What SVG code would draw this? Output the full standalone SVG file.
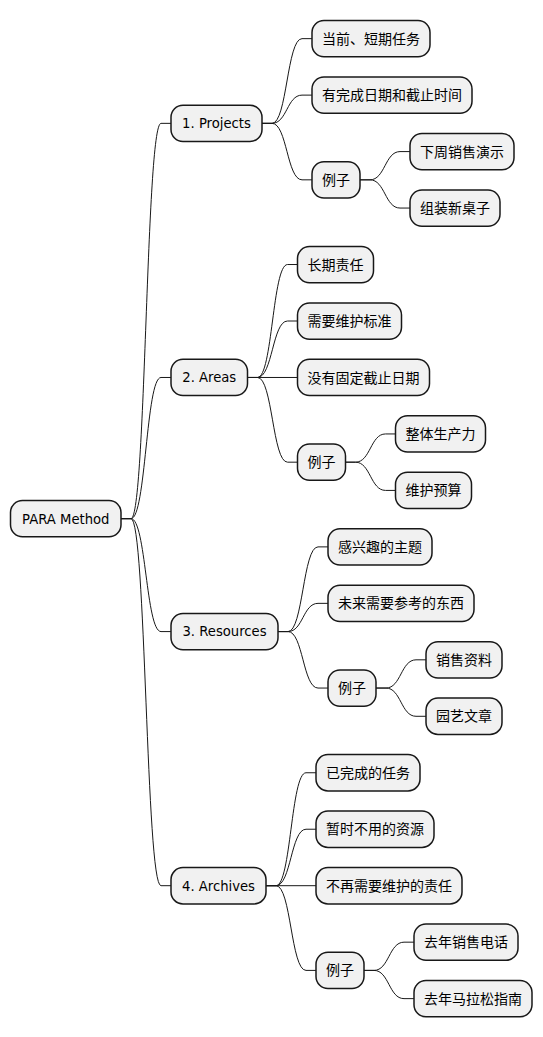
<svg xmlns="http://www.w3.org/2000/svg" width="543" height="1037" viewBox="0 0 543 1037">
<style>
.n rect{fill:#F1F1F1;stroke:#181818;stroke-width:1.5}
.n text{fill:#000;text-anchor:middle;font-size:14px;font-family:"Noto Sans CJK SC","DejaVu Sans",sans-serif}
.n text.l{font-family:"DejaVu Sans","Liberation Sans",sans-serif;font-size:13.2px}
#links path{fill:none;stroke:#181818;stroke-width:1}
</style>
<rect width="543" height="1037" fill="#FFFFFF"/>
<g id="links">
<path d="M121,518.65 H131 C146,518.65 146,123.35 161,123.35 H171"/>
<path d="M121,518.65 H131 C146,518.65 146,377.47 161,377.47 H171"/>
<path d="M121,518.65 H131 C146,518.65 146,631.58 161,631.58 H171"/>
<path d="M121,518.65 H131 C146,518.65 146,885.7 161,885.7 H171"/>
<path d="M262,123.35 H272 C287,123.35 287,38.65 302,38.65 H312"/>
<path d="M262,123.35 H272 C287,123.35 287,95.12 302,95.12 H312"/>
<path d="M262,123.35 H272 C287,123.35 287,179.83 302,179.83 H312"/>
<path d="M360,179.83 H370 C385,179.83 385,151.59 400,151.59 H410"/>
<path d="M360,179.83 H370 C385,179.83 385,208.06 400,208.06 H410"/>
<path d="M247.5,377.47 H257.5 C272.5,377.47 272.5,264.53 287.5,264.53 H297.5"/>
<path d="M247.5,377.47 H257.5 C272.5,377.47 272.5,321 287.5,321 H297.5"/>
<path d="M247.5,377.47 H297.5"/>
<path d="M247.5,377.47 H257.5 C272.5,377.47 272.5,462.18 287.5,462.18 H297.5"/>
<path d="M345.5,462.18 H355.5 C370.5,462.18 370.5,433.94 385.5,433.94 H395.5"/>
<path d="M345.5,462.18 H355.5 C370.5,462.18 370.5,490.41 385.5,490.41 H395.5"/>
<path d="M278,631.58 H288 C303,631.58 303,546.88 318,546.88 H328"/>
<path d="M278,631.58 H288 C303,631.58 303,603.35 318,603.35 H328"/>
<path d="M278,631.58 H288 C303,631.58 303,688.05 318,688.05 H328"/>
<path d="M376,688.05 H386 C401,688.05 401,659.82 416,659.82 H426"/>
<path d="M376,688.05 H386 C401,688.05 401,716.29 416,716.29 H426"/>
<path d="M266,885.7 H276 C291,885.7 291,772.76 306,772.76 H316"/>
<path d="M266,885.7 H276 C291,885.7 291,829.23 306,829.23 H316"/>
<path d="M266,885.7 H316"/>
<path d="M266,885.7 H276 C291,885.7 291,970.4 306,970.4 H316"/>
<path d="M364,970.4 H374 C389,970.4 389,942.17 404,942.17 H414"/>
<path d="M364,970.4 H374 C389,970.4 389,998.64 404,998.64 H414"/>
</g>
<g id="root" class="n"><rect x="10.5" y="500.5" width="110.5" height="36.3" rx="12" ry="12"/><text class="l" x="65.75" y="523.5">PARA Method</text></g>
<g id="projects" class="n"><rect x="171" y="105.2" width="91" height="36.3" rx="12" ry="12"/><text class="l" x="216.5" y="128.2">1. Projects</text></g>
<g id="p1" class="n"><rect x="312" y="20.5" width="118" height="36.3" rx="12" ry="12"/><text x="371" y="43.6">当前、短期任务</text></g>
<g id="p2" class="n"><rect x="312" y="77" width="160" height="36.3" rx="12" ry="12"/><text x="392" y="100.1">有完成日期和截止时间</text></g>
<g id="pe" class="n"><rect x="312" y="161.7" width="48" height="36.3" rx="12" ry="12"/><text x="336" y="184.8">例子</text></g>
<g id="pe1" class="n"><rect x="410" y="133.4" width="104" height="36.3" rx="12" ry="12"/><text x="462" y="156.6">下周销售演示</text></g>
<g id="pe2" class="n"><rect x="410" y="189.9" width="90" height="36.3" rx="12" ry="12"/><text x="455" y="213.1">组装新桌子</text></g>
<g id="areas" class="n"><rect x="171" y="359.3" width="76.5" height="36.3" rx="12" ry="12"/><text class="l" x="209.25" y="382.3">2. Areas</text></g>
<g id="a1" class="n"><rect x="297.5" y="246.4" width="76" height="36.3" rx="12" ry="12"/><text x="335.5" y="269.5">长期责任</text></g>
<g id="a2" class="n"><rect x="297.5" y="302.9" width="104" height="36.3" rx="12" ry="12"/><text x="349.5" y="326">需要维护标准</text></g>
<g id="a3" class="n"><rect x="297.5" y="359.3" width="132" height="36.3" rx="12" ry="12"/><text x="363.5" y="382.5">没有固定截止日期</text></g>
<g id="ae" class="n"><rect x="297.5" y="444" width="48" height="36.3" rx="12" ry="12"/><text x="321.5" y="467.2">例子</text></g>
<g id="ae1" class="n"><rect x="395.5" y="415.8" width="90" height="36.3" rx="12" ry="12"/><text x="440.5" y="438.9">整体生产力</text></g>
<g id="ae2" class="n"><rect x="395.5" y="472.3" width="76" height="36.3" rx="12" ry="12"/><text x="433.5" y="495.4">维护预算</text></g>
<g id="resources" class="n"><rect x="171" y="613.4" width="107" height="36.3" rx="12" ry="12"/><text class="l" x="224.5" y="636.4">3. Resources</text></g>
<g id="r1" class="n"><rect x="328" y="528.7" width="104" height="36.3" rx="12" ry="12"/><text x="380" y="551.9">感兴趣的主题</text></g>
<g id="r2" class="n"><rect x="328" y="585.2" width="146" height="36.3" rx="12" ry="12"/><text x="401" y="608.4">未来需要参考的东西</text></g>
<g id="re" class="n"><rect x="328" y="669.9" width="48" height="36.3" rx="12" ry="12"/><text x="352" y="693.1">例子</text></g>
<g id="re1" class="n"><rect x="426" y="641.7" width="76" height="36.3" rx="12" ry="12"/><text x="464" y="664.8">销售资料</text></g>
<g id="re2" class="n"><rect x="426" y="698.1" width="76" height="36.3" rx="12" ry="12"/><text x="464" y="721.3">园艺文章</text></g>
<g id="archives" class="n"><rect x="171" y="867.6" width="95" height="36.3" rx="12" ry="12"/><text class="l" x="218.5" y="890.5">4. Archives</text></g>
<g id="ar1" class="n"><rect x="316" y="754.6" width="104" height="36.3" rx="12" ry="12"/><text x="368" y="777.8">已完成的任务</text></g>
<g id="ar2" class="n"><rect x="316" y="811.1" width="118" height="36.3" rx="12" ry="12"/><text x="375" y="834.2">暂时不用的资源</text></g>
<g id="ar3" class="n"><rect x="316" y="867.6" width="146" height="36.3" rx="12" ry="12"/><text x="389" y="890.7">不再需要维护的责任</text></g>
<g id="are" class="n"><rect x="316" y="952.3" width="48" height="36.3" rx="12" ry="12"/><text x="340" y="975.4">例子</text></g>
<g id="are1" class="n"><rect x="414" y="924" width="104" height="36.3" rx="12" ry="12"/><text x="466" y="947.2">去年销售电话</text></g>
<g id="are2" class="n"><rect x="414" y="980.5" width="118" height="36.3" rx="12" ry="12"/><text x="473" y="1003.6">去年马拉松指南</text></g>
</svg>
